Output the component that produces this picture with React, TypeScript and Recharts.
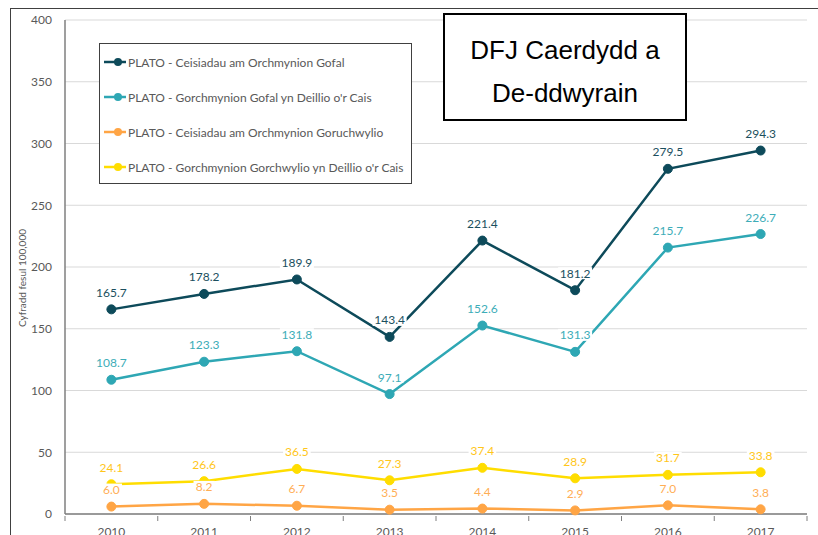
import React from "react";
import {
  LineChart,
  Line,
  XAxis,
  YAxis,
  CartesianGrid,
  LabelList,
} from "recharts";

const years = ["2010", "2011", "2012", "2013", "2014", "2015", "2016", "2017"];
const careApplications = [165.7, 178.2, 189.9, 143.4, 221.4, 181.2, 279.5, 294.3];
const careOrders = [108.7, 123.3, 131.8, 97.1, 152.6, 131.3, 215.7, 226.7];
const supervisionApplications = [6.0, 8.2, 6.7, 3.5, 4.4, 2.9, 7.0, 3.8];
const supervisionOrders = [24.1, 26.6, 36.5, 27.3, 37.4, 28.9, 31.7, 33.8];
const yTicks = [0, 50, 100, 150, 200, 250, 300, 350, 400];

const series = [
  { key: "a", name: "PLATO - Ceisiadau am Orchmynion Gofal", color: "#0D4A5A", labelColor: "#1B4F5E", values: careApplications },
  { key: "b", name: "PLATO - Gorchmynion Gofal yn Deillio o'r Cais", color: "#2EA7B4", labelColor: "#3DADB8", values: careOrders },
  { key: "c", name: "PLATO - Ceisiadau am Orchmynion Goruchwylio", color: "#FFA545", labelColor: "#FFAE55", values: supervisionApplications },
  { key: "d", name: "PLATO - Gorchmynion Gorchwylio yn Deillio o'r Cais", color: "#FFDD00", labelColor: "#FFC61A", values: supervisionOrders },
];

const data = years.map((year, i) => {
  const row: Record<string, string | number> = { year };
  series.forEach((s) => {
    row[s.key] = s.values[i];
  });
  return row;
});

const FONT = "Lato, 'Open Sans', sans-serif";
const AXIS_GREY = "#7f7f7f";
const TEXT_GREY = "#595959";

function makeLabel(color: string) {
  return (props: any) => {
    const { x, y, value } = props;
    const text = Number(value).toFixed(1);
    const w = text.length * 6.4 + 2;
    const cy = y - 17;
    return (
      <g>
        <rect x={x - w / 2} y={cy - 6} width={w} height={12} fill="#fff" />
        <text
          x={x}
          y={cy}
          textAnchor="middle"
          dominantBaseline="central"
          fill={color}
          fontSize={12}
          fontFamily={FONT}
        >
          {text}
        </text>
      </g>
    );
  };
}

// year label at the band centre, tick marks on the band edges
function YearTick(props: any) {
  const { x, y, payload, index, width } = props;
  const bw = width / years.length;
  const left = x - bw / 2;
  return (
    <g>
      <line x1={left} y1={y} x2={left} y2={y + 5} stroke={AXIS_GREY} />
      {index === years.length - 1 && (
        <line x1={left + bw} y1={y} x2={left + bw} y2={y + 5} stroke={AXIS_GREY} />
      )}
      <text
        x={x}
        y={y + 11}
        dy="0.71em"
        textAnchor="middle"
        fill={TEXT_GREY}
        fontSize={12}
        fontFamily={FONT}
      >
        {payload.value}
      </text>
    </g>
  );
}

export default function App() {
  return (
    <div style={{ position: "absolute", left: 0, top: 0, width: 818, height: 535, background: "#fff", overflow: "hidden", fontFamily: FONT }}>
      <div
        style={{
          position: "absolute",
          left: 10,
          top: 8,
          right: 0,
          bottom: 0,
          borderTop: "1px solid #404040",
          borderLeft: "1px solid #404040",
        }}
      />
      <LineChart
        width={818}
        height={535}
        data={data}
        margin={{ top: 20, right: 11, left: 10, bottom: 0 }}
      >
        <CartesianGrid horizontal vertical={false} stroke="#d9d9d9" strokeWidth={1} />
        <XAxis
          dataKey="year"
          scale="band"
          height={21}
          axisLine={{ stroke: AXIS_GREY, strokeWidth: 1.5 }}
          tickLine={false}
          tickSize={0}
          tick={<YearTick />}
          interval={0}
        />
        <YAxis
          domain={[0, 400]}
          ticks={yTicks}
          width={55}
          tickLine={false}
          tickSize={0}
          tickMargin={13}
          axisLine={{ stroke: AXIS_GREY, strokeWidth: 1.5 }}
          tick={{ fill: TEXT_GREY, fontSize: 12, fontFamily: FONT }}
          label={{
            value: "Cyfradd fesul 100,000",
            angle: -90,
            position: "insideLeft",
            dx: 7,
            dy: 60,
            fill: TEXT_GREY,
            fontSize: 10,
            fontFamily: FONT,
          }}
        />
        {series.map((s) => (
          <Line
            key={s.key}
            dataKey={s.key}
            name={s.name}
            stroke={s.color}
            strokeWidth={2.5}
            dot={{ r: 4.5, fill: s.color, stroke: s.color, strokeWidth: 1 }}
            isAnimationActive={false}
          >
            <LabelList dataKey={s.key} content={makeLabel(s.labelColor)} />
          </Line>
        ))}
      </LineChart>

      <div
        style={{
          position: "absolute",
          left: 99,
          top: 43,
          width: 311,
          height: 139,
          border: "1px solid #404040",
          background: "#fff",
        }}
      >
        {series.map((s, i) => (
          <div
            key={s.key}
            style={{
              position: "absolute",
              left: 4,
              top: 9 + i * 35,
              height: 18,
              display: "flex",
              alignItems: "center",
              whiteSpace: "nowrap",
            }}
          >
            <svg width={22} height={12} style={{ marginRight: 2 }}>
              <line x1={0} y1={6} x2={22} y2={6} stroke={s.color} strokeWidth={2.5} />
              <circle cx={14} cy={6} r={4} fill={s.color} />
            </svg>
            <span style={{ fontSize: 12, color: TEXT_GREY }}>{s.name}</span>
          </div>
        ))}
      </div>

      <div
        style={{
          position: "absolute",
          left: 443,
          top: 13,
          width: 244,
          height: 108,
          boxSizing: "border-box",
          border: "2px solid #000",
          background: "#fff",
          fontFamily: "'Liberation Sans', Arial, sans-serif",
          fontSize: 26,
          lineHeight: "43px",
          color: "#000",
          textAlign: "center",
          paddingTop: 14,
        }}
      >
        <div>DFJ Caerdydd a</div>
        <div>De-ddwyrain</div>
      </div>
    </div>
  );
}
